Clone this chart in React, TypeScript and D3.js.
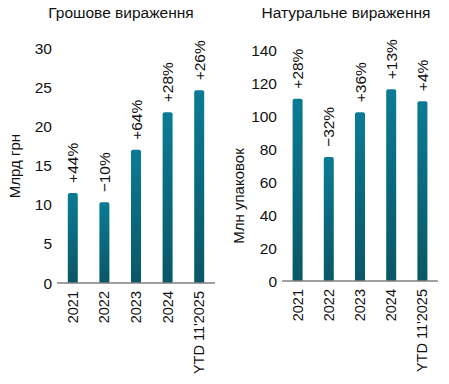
import React from "react";
import * as d3 from "d3";

const categories = ["2021", "2022", "2023", "2024", "YTD 11'2025"];
const moneyValues = [11.5, 10.3, 17.0, 21.8, 24.6];
const moneyChanges = ["+44%", "\u221210%", "+64%", "+28%", "+26%"];
const moneyTicks = [0, 5, 10, 15, 20, 25, 30];
const unitValues = [110.5, 75.2, 102.3, 116.2, 109];
const unitChanges = ["+28%", "\u221232%", "+36%", "+13%", "+4%"];
const unitTicks = [0, 20, 40, 60, 80, 100, 120, 140];

const FONT = "'Liberation Sans', Arial, sans-serif";

type PanelProps = {
  id: string;
  title: string;
  yTitle: string;
  values: number[];
  changes: string[];
  ticks: number[];
  xRange: [number, number];
  yRange: [number, number];
  tickX: number;
  titleX: number;
  yTitleX: number;
  yTitleY: number;
};

function Panel(p: PanelProps) {
  const max = p.ticks[p.ticks.length - 1];
  const x = d3.scaleBand<string>().domain(categories).range(p.xRange).padding(0);
  const y = d3.scaleLinear().domain([0, max]).range(p.yRange);
  const barW = 10;
  const base = y(0);
  return (
    <g>
      <text x={p.titleX} y={18} textAnchor="middle" fontSize={15.5} fill="#111">
        {p.title}
      </text>
      <text
        transform={`translate(${p.yTitleX},${p.yTitleY}) rotate(-90)`}
        textAnchor="middle"
        dominantBaseline="central"
        fontSize={15}
        fill="#111"
      >
        {p.yTitle}
      </text>
      {p.ticks.map((t) => (
        <text key={t} x={p.tickX} y={y(t)} textAnchor="end" dominantBaseline="central" fontSize={15.5} fill="#111">
          {t}
        </text>
      ))}
      {p.values.map((v, i) => {
        const cx = (x(categories[i]) as number) + x.bandwidth() / 2;
        const top = y(v);
        const r = 2;
        const path = `M${cx - barW / 2},${base} L${cx - barW / 2},${top + r} Q${cx - barW / 2},${top} ${cx - barW / 2 + r},${top} L${cx + barW / 2 - r},${top} Q${cx + barW / 2},${top} ${cx + barW / 2},${top + r} L${cx + barW / 2},${base} Z`;
        return (
          <g key={i}>
            <path d={path} fill={`url(#grad-${p.id})`} />
            <text
              transform={`translate(${cx},${top - 10}) rotate(-90)`}
              textAnchor="start"
              dominantBaseline="central"
              fontSize={15.5}
              fill="#111"
            >
              {p.changes[i]}
            </text>
            <text
              transform={`translate(${cx},${base + 8}) rotate(-90)`}
              textAnchor="end"
              dominantBaseline="central"
              fontSize={14.5}
              fill="#111"
            >
              {categories[i]}
            </text>
          </g>
        );
      })}
      <line x1={p.xRange[0]} x2={p.xRange[1]} y1={base} y2={base} stroke="#808080" strokeWidth={1.5} />
    </g>
  );
}

export default function App() {
  return (
    <svg width={449} height={384} style={{ display: "block", position: "absolute", left: 0, top: 0, fontFamily: FONT }}>
      <defs>
        {["a", "b"].map((id) => (
          <linearGradient key={id} id={`grad-${id}`} x1="0" y1="0" x2="0" y2="1" gradientUnits="objectBoundingBox">
            <stop offset="0" stopColor="#0b7b95" />
            <stop offset="1" stopColor="#0a5765" />
          </linearGradient>
        ))}
      </defs>
      <rect width={449} height={384} fill="#ffffff" />
      <Panel
        id="a"
        title="Грошове вираження"
        yTitle="Млрд грн"
        values={moneyValues}
        changes={moneyChanges}
        ticks={moneyTicks}
        xRange={[57, 215]}
        yRange={[283, 48]}
        tickX={52}
        titleX={121}
        yTitleX={14}
        yTitleY={166}
      />
      <Panel
        id="b"
        title="Натуральне вираження"
        yTitle="Млн упаковок"
        values={unitValues}
        changes={unitChanges}
        ticks={unitTicks}
        xRange={[282, 438]}
        yRange={[281, 50]}
        tickX={277}
        titleX={346}
        yTitleX={238}
        yTitleY={196}
      />
    </svg>
  );
}
